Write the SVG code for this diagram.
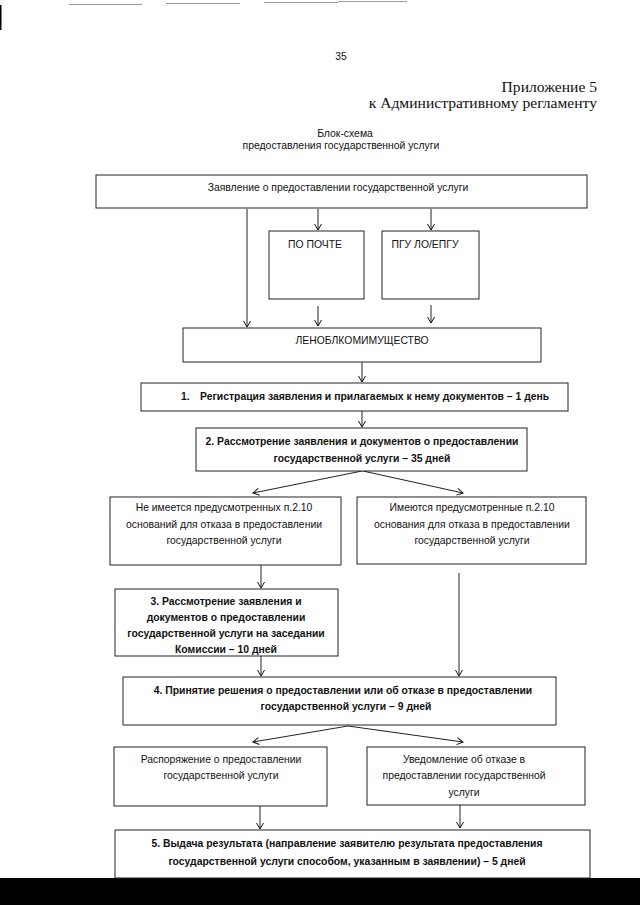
<svg xmlns="http://www.w3.org/2000/svg" width="640" height="905" viewBox="0 0 640 905">
<style>
.bx{fill:#fff;stroke:#222;stroke-width:1}
.t{font-family:"Liberation Sans",Arial,sans-serif;font-size:10.4px;fill:#111;text-anchor:middle}
.b{font-weight:bold}
.s{font-family:"Liberation Serif","Times New Roman",serif;font-size:15.6px;fill:#111;text-anchor:end}
.c{fill:none;stroke:#222;stroke-width:1;marker-end:url(#arr)}
.art{stroke:#999;stroke-width:1}
</style>
<defs>
<marker id="arr" viewBox="-8 -5 9 10" refX="0" refY="0" markerWidth="9" markerHeight="10" markerUnits="userSpaceOnUse" orient="auto"><path d="M-6,-3.5 L0,0 L-6,3.5" fill="none" stroke="#111" stroke-width="1"/></marker>
</defs>
<rect width="640" height="905" fill="#fff"/>
<g id="scan-artifacts">
<line class="art" x1="69" y1="4.5" x2="142" y2="4.5"/>
<line class="art" x1="166" y1="3.5" x2="240" y2="3.5"/>
<line class="art" x1="264" y1="2.5" x2="338" y2="2.5"/>
<line class="art" x1="338" y1="1.5" x2="407" y2="1.5"/>
<rect x="0" y="5" width="1.5" height="25" fill="#000"/>
<rect x="0" y="878" width="640" height="27" fill="#000"/>
</g>
<g id="header">
<text class="t" x="341" y="60">35</text>
<text class="s" x="597" y="92">Приложение 5</text>
<text class="s" x="597" y="108">к Административному регламенту</text>
<text class="t" x="345" y="137">Блок-схема</text>
<text class="t" x="341" y="149">предоставления государственной услуги</text>
</g>
<g id="connectors">
<line class="c" x1="247" y1="209" x2="247" y2="327"/>
<line class="c" x1="318" y1="209" x2="318" y2="230"/>
<line class="c" x1="431" y1="209" x2="431" y2="230"/>
<line class="c" x1="318" y1="306" x2="318" y2="326"/>
<line class="c" x1="431" y1="305" x2="431" y2="323"/>
<line class="c" x1="362" y1="362" x2="362" y2="382"/>
<line class="c" x1="362" y1="411" x2="362" y2="427"/>
<line class="c" x1="362" y1="471" x2="253" y2="493"/>
<line class="c" x1="363" y1="471" x2="463" y2="493"/>
<line class="c" x1="261" y1="565" x2="261" y2="588"/>
<line class="c" x1="459" y1="573" x2="459" y2="676"/>
<line class="c" x1="261" y1="656" x2="261" y2="676"/>
<line class="c" x1="348" y1="726" x2="253" y2="742"/>
<line class="c" x1="348" y1="726" x2="463" y2="742"/>
<line class="c" x1="260" y1="806" x2="260" y2="829"/>
<line class="c" x1="460" y1="805" x2="460" y2="828"/>
</g>
<g id="n-zayavlenie">
<rect class="bx" x="96" y="175" width="491" height="33"/>
<text class="t" x="338" y="191">Заявление о предоставлении государственной услуги</text>
</g>
<g id="n-pochta">
<rect class="bx" x="269" y="231" width="95" height="68"/>
<text class="t" x="315" y="247.5">ПО ПОЧТЕ</text>
</g>
<g id="n-pgu">
<rect class="bx" x="382" y="231" width="97" height="68"/>
<text class="t" x="425" y="247.5">ПГУ ЛО/ЕПГУ</text>
</g>
<g id="n-lenobl">
<rect class="bx" x="183" y="328" width="358" height="34"/>
<text class="t" x="362" y="343.5">ЛЕНОБЛКОМИМУЩЕСТВО</text>
</g>
<g id="n-step1">
<rect class="bx" x="141" y="383" width="427" height="28"/>
<text class="t b" x="181" y="399.5" style="text-anchor:start">1.</text>
<text class="t b" x="200" y="399.5" style="text-anchor:start">Регистрация заявления и прилагаемых к нему документов – 1 день</text>
</g>
<g id="n-step2">
<rect class="bx" x="196" y="428" width="331" height="43"/>
<text class="t b" x="362" y="445">2. Рассмотрение заявления и документов о предоставлении</text>
<text class="t b" x="362" y="461.5">государственной услуги  – 35 дней</text>
</g>
<g id="n-net-osnovaniy">
<rect class="bx" x="110" y="497" width="231" height="68"/>
<text class="t" x="224" y="510.5">Не имеется предусмотренных п.2.10</text>
<text class="t" x="224" y="527.5">оснований для отказа в предоставлении</text>
<text class="t" x="224" y="543.5">государственной услуги</text>
</g>
<g id="n-est-osnovaniya">
<rect class="bx" x="357" y="497" width="229" height="67"/>
<text class="t" x="472" y="510.5">Имеются предусмотренные п.2.10</text>
<text class="t" x="472" y="527.5">основания для отказа в предоставлении</text>
<text class="t" x="472" y="543.5">государственной услуги</text>
</g>
<g id="n-step3">
<rect class="bx" x="115" y="589" width="223" height="67"/>
<text class="t b" x="226" y="604.5">3. Рассмотрение заявления и</text>
<text class="t b" x="226" y="620.5">документов о предоставлении</text>
<text class="t b" x="226" y="637">государственной услуги на заседании</text>
<text class="t b" x="226" y="652.5">Комиссии – 10 дней</text>
</g>
<g id="n-step4">
<rect class="bx" x="123" y="677" width="433" height="48"/>
<text class="t b" x="343" y="693.5">4. Принятие решения о предоставлении или об отказе в предоставлении</text>
<text class="t b" x="346" y="710">государственной услуги – 9 дней</text>
</g>
<g id="n-rasporyazhenie">
<rect class="bx" x="114" y="747" width="213" height="59"/>
<text class="t" x="221" y="762.5">Распоряжение о предоставлении</text>
<text class="t" x="221" y="778.5">государственной услуги</text>
</g>
<g id="n-uvedomlenie">
<rect class="bx" x="367" y="747" width="218" height="58"/>
<text class="t" x="464" y="763">Уведомление об отказе в</text>
<text class="t" x="464" y="779">предоставлении государственной</text>
<text class="t" x="464" y="795.5">услуги</text>
</g>
<g id="n-step5">
<rect class="bx" x="115" y="830" width="475" height="48"/>
<text class="t b" x="347" y="846.5">5.  Выдача результата (направление заявителю результата предоставления</text>
<text class="t b" x="347" y="864.5">государственной услуги способом, указанным в заявлении) – 5 дней</text>
</g>
</svg>
